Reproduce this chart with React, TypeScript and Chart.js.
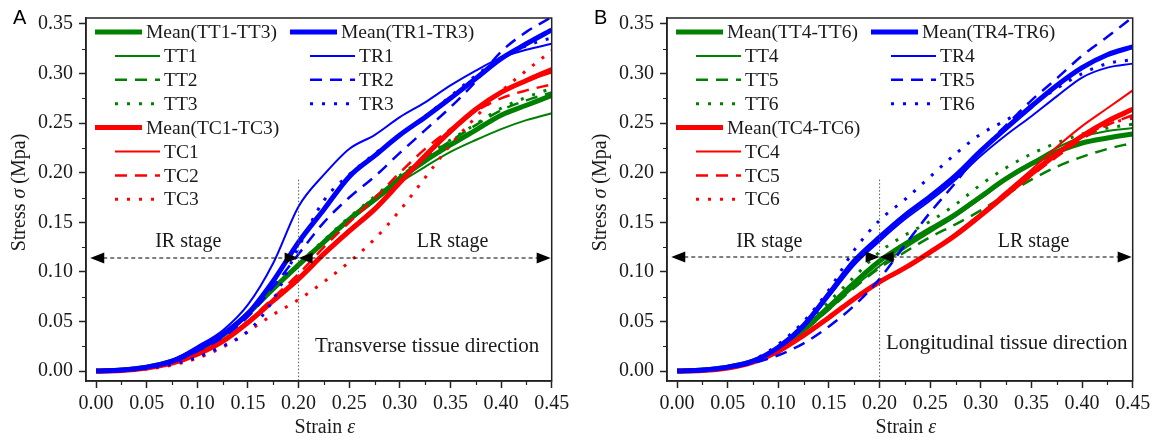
import React, { useEffect, useRef } from 'react';
import { Chart, registerables } from 'chart.js';
Chart.register(...registerables);

// ---------- data ----------
const STRAIN = [0, 0.025, 0.05, 0.075, 0.1, 0.125, 0.15, 0.175, 0.2, 0.225, 0.25, 0.275, 0.3, 0.325, 0.35, 0.375, 0.4, 0.425, 0.45];
const X_TICKS = [0, 0.05, 0.1, 0.15, 0.2, 0.25, 0.3, 0.35, 0.4, 0.45];
const Y_TICKS = [0, 0.05, 0.1, 0.15, 0.2, 0.25, 0.3, 0.35];
const X_MINOR = [0.025, 0.075, 0.125, 0.175, 0.225, 0.275, 0.325, 0.375, 0.425];
const Y_MINOR = [0.025, 0.075, 0.125, 0.175, 0.225, 0.275, 0.325];

// Panel A (transverse)
const TR_MEAN_A = [0, 0.001, 0.004, 0.01, 0.022, 0.037, 0.058, 0.091, 0.13, 0.163, 0.196, 0.217, 0.238, 0.256, 0.275, 0.295, 0.315, 0.33, 0.344];
const TR1_A = [0, 0.001, 0.004, 0.011, 0.025, 0.041, 0.067, 0.109, 0.166, 0.198, 0.224, 0.238, 0.256, 0.271, 0.288, 0.303, 0.316, 0.324, 0.33];
const TR2_A = [0, 0.001, 0.004, 0.009, 0.02, 0.034, 0.055, 0.085, 0.118, 0.15, 0.175, 0.196, 0.22, 0.243, 0.266, 0.292, 0.322, 0.342, 0.357];
const TR3_A = [0, 0.0005, 0.003, 0.007, 0.014, 0.025, 0.04, 0.072, 0.125, 0.172, 0.198, 0.219, 0.238, 0.257, 0.277, 0.298, 0.315, 0.328, 0.336];
const TC_MEAN_A = [0, 0.0005, 0.003, 0.008, 0.017, 0.03, 0.049, 0.071, 0.093, 0.118, 0.141, 0.163, 0.19, 0.217, 0.242, 0.264, 0.281, 0.293, 0.304];
const TC1_A = [0, 0.0005, 0.003, 0.008, 0.018, 0.031, 0.05, 0.072, 0.095, 0.12, 0.143, 0.165, 0.19, 0.216, 0.24, 0.262, 0.28, 0.292, 0.301];
const TC2_A = [0, 0.0005, 0.003, 0.008, 0.017, 0.03, 0.05, 0.074, 0.098, 0.125, 0.15, 0.174, 0.2, 0.224, 0.244, 0.262, 0.275, 0.283, 0.289];
const TC3_A = [0, 0.0003, 0.002, 0.006, 0.013, 0.024, 0.04, 0.057, 0.072, 0.09, 0.11, 0.133, 0.162, 0.195, 0.228, 0.256, 0.282, 0.303, 0.323];
const TT_MEAN_A = [0, 0.001, 0.004, 0.01, 0.02, 0.036, 0.058, 0.083, 0.107, 0.13, 0.153, 0.173, 0.194, 0.212, 0.228, 0.243, 0.258, 0.268, 0.278];
const TT1_A = [0, 0.001, 0.004, 0.01, 0.021, 0.037, 0.059, 0.084, 0.107, 0.129, 0.151, 0.171, 0.19, 0.206, 0.221, 0.233, 0.244, 0.253, 0.26];
const TT2_A = [0, 0.001, 0.004, 0.01, 0.02, 0.035, 0.057, 0.082, 0.106, 0.13, 0.154, 0.175, 0.196, 0.215, 0.232, 0.248, 0.263, 0.273, 0.281];
const TT3_A = [0, 0.001, 0.004, 0.01, 0.02, 0.036, 0.058, 0.083, 0.108, 0.132, 0.155, 0.176, 0.197, 0.216, 0.233, 0.249, 0.265, 0.276, 0.285];

// Panel B (longitudinal)
const TR_MEAN_B = [0, 0.001, 0.004, 0.01, 0.024, 0.046, 0.078, 0.111, 0.135, 0.157, 0.176, 0.197, 0.222, 0.245, 0.267, 0.288, 0.306, 0.319, 0.327];
const TR4_B = [0, 0.001, 0.004, 0.01, 0.023, 0.044, 0.075, 0.107, 0.131, 0.153, 0.172, 0.193, 0.217, 0.238, 0.257, 0.277, 0.296, 0.306, 0.31];
const TR5_B = [0, 0.001, 0.003, 0.008, 0.016, 0.028, 0.045, 0.066, 0.093, 0.127, 0.16, 0.19, 0.222, 0.248, 0.273, 0.295, 0.318, 0.337, 0.357];
const TR6_B = [0, 0.001, 0.004, 0.011, 0.027, 0.05, 0.082, 0.122, 0.152, 0.173, 0.196, 0.219, 0.239, 0.253, 0.268, 0.285, 0.3, 0.31, 0.314];
const TC_MEAN_B = [0, 0.0005, 0.003, 0.009, 0.02, 0.036, 0.054, 0.073, 0.09, 0.104, 0.12, 0.137, 0.157, 0.178, 0.199, 0.219, 0.237, 0.252, 0.264];
const TC4_B = [0, 0.0005, 0.003, 0.009, 0.02, 0.036, 0.054, 0.073, 0.091, 0.105, 0.121, 0.139, 0.159, 0.181, 0.203, 0.226, 0.247, 0.265, 0.283];
const TC5_B = [0, 0.0005, 0.003, 0.008, 0.019, 0.035, 0.053, 0.072, 0.089, 0.103, 0.119, 0.136, 0.156, 0.177, 0.197, 0.216, 0.234, 0.248, 0.258];
const TC6_B = [0, 0.0005, 0.003, 0.009, 0.021, 0.037, 0.055, 0.074, 0.09, 0.104, 0.12, 0.137, 0.157, 0.178, 0.198, 0.218, 0.236, 0.249, 0.255];
const TT_MEAN_B = [0, 0.001, 0.004, 0.01, 0.023, 0.042, 0.065, 0.089, 0.111, 0.128, 0.143, 0.158, 0.176, 0.194, 0.209, 0.221, 0.23, 0.235, 0.239];
const TT4_B = [0, 0.001, 0.004, 0.01, 0.022, 0.04, 0.062, 0.085, 0.106, 0.124, 0.14, 0.156, 0.174, 0.193, 0.21, 0.225, 0.236, 0.242, 0.245];
const TT5_B = [0, 0.001, 0.004, 0.01, 0.022, 0.04, 0.062, 0.084, 0.104, 0.12, 0.135, 0.148, 0.162, 0.178, 0.193, 0.206, 0.216, 0.224, 0.23];
const TT6_B = [0, 0.001, 0.004, 0.011, 0.025, 0.045, 0.07, 0.095, 0.12, 0.137, 0.151, 0.168, 0.188, 0.205, 0.219, 0.23, 0.239, 0.245, 0.249];

// ---------- styling ----------
const GREEN = '#008000';
const RED = '#ff0000';
const BLUE = '#0000ff';
const AXIS = '#222222';
const TEXT = '#1a1a1a';
const SERIF = "'Liberation Serif', 'Times New Roman', serif";
const SANS = "'Liberation Sans', Arial, sans-serif";

type Kind = 'mean' | 'solid' | 'dash' | 'dot';
type Series = { label: string; data: number[]; kind: Kind };
type Group = { color: string; items: Series[] };

const STYLE: Record<Kind, { w: number; dash: number[] }> = {
  mean: { w: 5, dash: [] },
  solid: { w: 2, dash: [] },
  dash: { w: 2.5, dash: [12, 8] },
  dot: { w: 3, dash: [3, 9] },
};

type PanelCfg = {
  letter: string;
  left: number;
  yAxisW: number;
  padRight: number;
  padTop: number;
  green: Group;
  red: Group;
  blue: Group;
  direction: string;
  dirX: number;
  dirY: number;
  arrowY: number;
};

const PANEL_A: PanelCfg = {
  letter: 'A', left: 0, yAxisW: 86, padRight: 26.3, padTop: 8,
  green: { color: GREEN, items: [
    { label: 'Mean(TT1-TT3)', data: TT_MEAN_A, kind: 'mean' },
    { label: 'TT1', data: TT1_A, kind: 'solid' },
    { label: 'TT2', data: TT2_A, kind: 'dash' },
    { label: 'TT3', data: TT3_A, kind: 'dot' },
  ] },
  red: { color: RED, items: [
    { label: 'Mean(TC1-TC3)', data: TC_MEAN_A, kind: 'mean' },
    { label: 'TC1', data: TC1_A, kind: 'solid' },
    { label: 'TC2', data: TC2_A, kind: 'dash' },
    { label: 'TC3', data: TC3_A, kind: 'dot' },
  ] },
  blue: { color: BLUE, items: [
    { label: 'Mean(TR1-TR3)', data: TR_MEAN_A, kind: 'mean' },
    { label: 'TR1', data: TR1_A, kind: 'solid' },
    { label: 'TR2', data: TR2_A, kind: 'dash' },
    { label: 'TR3', data: TR3_A, kind: 'dot' },
  ] },
  direction: 'Transverse tissue direction', dirX: 0.327, dirY: 0.0246, arrowY: 0.114,
};

const PANEL_B: PanelCfg = {
  letter: 'B', left: 578, yAxisW: 89, padRight: 23.3, padTop: 8.7,
  green: { color: GREEN, items: [
    { label: 'Mean(TT4-TT6)', data: TT_MEAN_B, kind: 'mean' },
    { label: 'TT4', data: TT4_B, kind: 'solid' },
    { label: 'TT5', data: TT5_B, kind: 'dash' },
    { label: 'TT6', data: TT6_B, kind: 'dot' },
  ] },
  red: { color: RED, items: [
    { label: 'Mean(TC4-TC6)', data: TC_MEAN_B, kind: 'mean' },
    { label: 'TC4', data: TC4_B, kind: 'solid' },
    { label: 'TC5', data: TC5_B, kind: 'dash' },
    { label: 'TC6', data: TC6_B, kind: 'dot' },
  ] },
  blue: { color: BLUE, items: [
    { label: 'Mean(TR4-TR6)', data: TR_MEAN_B, kind: 'mean' },
    { label: 'TR4', data: TR4_B, kind: 'solid' },
    { label: 'TR5', data: TR5_B, kind: 'dash' },
    { label: 'TR6', data: TR6_B, kind: 'dot' },
  ] },
  direction: 'Longitudinal tissue direction', dirX: 0.3255, dirY: 0.028, arrowY: 0.115,
};

function toDatasets(g: Group) {
  return g.items.map((s) => ({
    label: s.label,
    data: STRAIN.map((x, i) => ({ x, y: s.data[i] })),
    borderColor: g.color,
    backgroundColor: g.color,
    borderWidth: STYLE[s.kind].w,
    borderDash: STYLE[s.kind].dash,
    pointRadius: 0,
    fill: false,
    cubicInterpolationMode: 'monotone' as const,
  }));
}

function arrowHead(ctx: CanvasRenderingContext2D, tip: number, y: number, dir: number) {
  ctx.beginPath();
  ctx.moveTo(tip, y);
  ctx.lineTo(tip - dir * 14, y - 5.5);
  ctx.lineTo(tip - dir * 14, y + 5.5);
  ctx.closePath();
  ctx.fill();
}

function doubleArrow(ctx: CanvasRenderingContext2D, x1: number, x2: number, y: number) {
  ctx.save();
  ctx.strokeStyle = '#000';
  ctx.fillStyle = '#000';
  ctx.lineWidth = 1.2;
  ctx.setLineDash([4, 3]);
  ctx.beginPath();
  ctx.moveTo(x1 + 13, y);
  ctx.lineTo(x2 - 13, y);
  ctx.stroke();
  ctx.setLineDash([]);
  arrowHead(ctx, x1, y, -1);
  arrowHead(ctx, x2, y, 1);
  ctx.restore();
}

function makeDeco(p: PanelCfg) {
  return {
    id: 'deco' + p.letter,
    afterDatasetsDraw(chart: any) {
      const { ctx, chartArea: a, scales } = chart;
      const xs = scales.x;
      const ys = scales.y;
      ctx.save();
      // vertical dotted boundary line at strain 0.2
      const bx = xs.getPixelForValue(0.2);
      ctx.strokeStyle = '#555';
      ctx.lineWidth = 1;
      ctx.setLineDash([1.5, 2]);
      ctx.beginPath();
      ctx.moveTo(bx, ys.getPixelForValue(0.193));
      ctx.lineTo(bx, a.bottom);
      ctx.stroke();
      ctx.setLineDash([]);

      // stage arrows
      const ay = ys.getPixelForValue(p.arrowY);
      doubleArrow(ctx, xs.getPixelForValue(-0.0058), bx, ay);
      doubleArrow(ctx, bx, xs.getPixelForValue(0.449), ay);

      // texts
      ctx.fillStyle = TEXT;
      ctx.textAlign = 'center';
      ctx.textBaseline = 'middle';
      ctx.font = `20px ${SERIF}`;
      ctx.fillText('IR stage', xs.getPixelForValue(0.091), ys.getPixelForValue(0.13));
      ctx.fillText('LR stage', xs.getPixelForValue(0.352), ys.getPixelForValue(0.13));
      ctx.font = `21px ${SERIF}`;
      ctx.fillText(p.direction, xs.getPixelForValue(p.dirX), ys.getPixelForValue(p.dirY));

      // legend
      ctx.font = `19.5px ${SERIF}`;
      ctx.textAlign = 'left';
      const rowH = 23.9;
      const drawItem = (g: Group, s: Series, row: number, colOff: number) => {
        const y = a.top + 14 + row * rowH;
        const isMean = s.kind === 'mean';
        const l0 = a.left + colOff + (isMean ? 9 : 29);
        const l1 = l0 + (isMean ? 47 : 45);
        ctx.strokeStyle = g.color;
        ctx.lineWidth = STYLE[s.kind].w;
        ctx.setLineDash(STYLE[s.kind].dash);
        ctx.beginPath();
        ctx.moveTo(l0, y);
        ctx.lineTo(l1, y);
        ctx.stroke();
        ctx.setLineDash([]);
        ctx.fillStyle = TEXT;
        ctx.fillText(s.label, l1 + 4, y + 1);
      };
      p.green.items.forEach((s, i) => drawItem(p.green, s, i, 0));
      p.red.items.forEach((s, i) => drawItem(p.red, s, i + 4, 0));
      p.blue.items.forEach((s, i) => drawItem(p.blue, s, i, 195));
      ctx.restore();
    },
    afterDraw(chart: any) {
      const { ctx, chartArea: a, scales } = chart;
      const xs = scales.x;
      const ys = scales.y;
      ctx.save();
      // frame
      ctx.strokeStyle = AXIS;
      ctx.lineWidth = 1.5;
      ctx.strokeRect(a.left, a.top, a.right - a.left, a.bottom - a.top);
      // minor ticks
      ctx.lineWidth = 1.2;
      ctx.beginPath();
      X_MINOR.forEach((v) => {
        const px = Math.round(xs.getPixelForValue(v)) + 0.5;
        ctx.moveTo(px, a.bottom);
        ctx.lineTo(px, a.bottom + 4);
      });
      Y_MINOR.forEach((v) => {
        const py = Math.round(ys.getPixelForValue(v)) + 0.5;
        ctx.moveTo(a.left - 4, py);
        ctx.lineTo(a.left, py);
      });
      ctx.stroke();

      // panel letter
      ctx.fillStyle = '#000';
      ctx.font = `20px ${SANS}`;
      ctx.textAlign = 'left';
      ctx.textBaseline = 'alphabetic';
      ctx.fillText(p.letter, a.left - 73, 23.5);

      // x title: "Strain ε"
      const reg = `20px ${SERIF}`;
      const ita = `italic 20px ${SERIF}`;
      ctx.textBaseline = 'middle';
      const drawParts = (parts: [string, string][], cx: number, cy: number) => {
        let total = 0;
        parts.forEach(([t, f]) => { ctx.font = f; total += ctx.measureText(t).width; });
        let x = cx - total / 2;
        parts.forEach(([t, f]) => { ctx.font = f; ctx.fillText(t, x, cy); x += ctx.measureText(t).width; });
      };
      ctx.fillStyle = TEXT;
      drawParts([['Strain ', reg], ['ε', ita]], (a.left + a.right) / 2 + 6, 428);

      // y title: "Stress σ (Mpa)"
      ctx.save();
      ctx.translate(a.left - 66.5, (a.top + a.bottom) / 2 - 7);
      ctx.rotate(-Math.PI / 2);
      drawParts([['Stress ', reg], ['σ', ita], [' (Mpa)', reg]], 0, 0);
      ctx.restore();
      ctx.restore();
    },
  };
}

function Panel({ cfg }: { cfg: PanelCfg }) {
  const ref = useRef<HTMLCanvasElement>(null);
  useEffect(() => {
    const tickFont = { family: SERIF, size: 20 };
    const chart = new Chart(ref.current as HTMLCanvasElement, {
      type: 'line',
      data: {
        datasets: [...toDatasets(cfg.blue), ...toDatasets(cfg.red), ...toDatasets(cfg.green)],
      },
      options: {
        responsive: false,
        animation: false,
        devicePixelRatio: 1,
        layout: { padding: { left: 0, right: cfg.padRight, top: cfg.padTop, bottom: 0 } },
        plugins: { legend: { display: false }, tooltip: { enabled: false } },
        scales: {
          x: {
            type: 'linear',
            min: -0.01,
            max: 0.45,
            afterBuildTicks: (s: any) => { s.ticks = X_TICKS.map((v) => ({ value: v })); },
            afterFit: (s: any) => { s.height = 61; },
            ticks: {
              callback: (v: any) => Number(v).toFixed(2),
              font: tickFont, color: TEXT, padding: 4, maxRotation: 0, autoSkip: false,
            },
            grid: { display: true, drawOnChartArea: false, drawTicks: true, tickLength: 7, tickColor: AXIS, tickWidth: 1.5 },
            border: { display: true, color: AXIS, width: 1.5 },
          },
          y: {
            type: 'linear',
            min: -0.01,
            max: 0.356,
            afterBuildTicks: (s: any) => { s.ticks = Y_TICKS.map((v) => ({ value: v })); },
            afterFit: (s: any) => { s.width = cfg.yAxisW; },
            ticks: {
              callback: (v: any) => Number(v).toFixed(2),
              font: tickFont, color: TEXT, padding: 6, autoSkip: false,
            },
            grid: { display: true, drawOnChartArea: false, drawTicks: true, tickLength: 7, tickColor: AXIS, tickWidth: 1.5 },
            border: { display: true, color: AXIS, width: 1.5 },
          },
        },
      } as any,
      plugins: [makeDeco(cfg)],
    });
    return () => chart.destroy();
  }, [cfg]);
  return (
    <canvas
      ref={ref}
      width={578}
      height={442}
      style={{ position: 'absolute', left: cfg.left, top: 0, width: 578, height: 442 }}
    />
  );
}

export default function App() {
  return (
    <div style={{ position: 'fixed', left: 0, top: 0, width: 1156, height: 442, background: '#fff' }}>
      <Panel cfg={PANEL_A} />
      <Panel cfg={PANEL_B} />
    </div>
  );
}
